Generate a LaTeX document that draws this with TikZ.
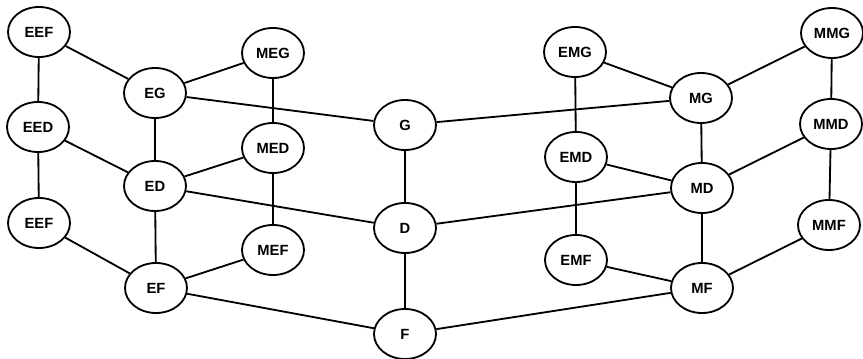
\documentclass[tikz,border=0pt]{standalone}
\usepackage{fontspec}
\setmainfont{Liberation Sans}
\usetikzlibrary{shapes.geometric}

\begin{document}
\begin{tikzpicture}[x=0.025cm, y=-0.025cm,
    state/.style={draw, ellipse, line width=1.3pt, minimum width=1.55cm, minimum height=1.25cm,
        inner sep=0pt, font=\fontsize{10.5}{12}\selectfont\bfseries},
    link/.style={line width=1.3pt}]
    \useasboundingbox (0,0) rectangle (863,359);

    % Left block
    \node[state] (EEF1) at (39, 32) {EEF};
    \node[state] (EED) at (38, 127) {EED};
    \node[state] (EEF2) at (39, 223) {EEF};
    \node[state] (EG) at (155, 93) {EG};
    \node[state] (ED) at (155, 186) {ED};
    \node[state] (EF) at (156, 288) {EF};
    \node[state] (MEG) at (273, 53) {MEG};
    \node[state] (MED) at (273, 148) {MED};
    \node[state] (MEF) at (273, 250) {MEF};

    % Middle column
    \node[state] (G) at (405, 125) {G};
    \node[state] (D) at (405, 228) {D};
    \node[state] (F) at (405, 334) {F};

    % Right block
    \node[state] (EMG) at (575, 52) {EMG};
    \node[state] (EMD) at (576, 157) {EMD};
    \node[state] (EMF) at (576, 260) {EMF};
    \node[state] (MG) at (701, 98) {MG};
    \node[state] (MD) at (702, 188) {MD};
    \node[state] (MF) at (702, 288) {MF};
    \node[state] (MMG) at (832, 33) {MMG};
    \node[state] (MMD) at (831, 124) {MMD};
    \node[state] (MMF) at (829, 225) {MMF};

    % Draw connections
    \draw[link] (EEF1) -- (EED);
    \draw[link] (EED) -- (EEF2);
    \draw[link] (EEF1) -- (EG);
    \draw[link] (EED) -- (ED);
    \draw[link] (EEF2) -- (EF);
    \draw[link] (EG) -- (ED);
    \draw[link] (ED) -- (EF);
    \draw[link] (EG) -- (MEG);
    \draw[link] (ED) -- (MED);
    \draw[link] (EF) -- (MEF);
    \draw[link] (MEG) -- (MED);
    \draw[link] (MED) -- (MEF);
    \draw[link] (EG) -- (G);
    \draw[link] (ED) -- (D);
    \draw[link] (EF) -- (F);
    \draw[link] (G) -- (D);
    \draw[link] (D) -- (F);
    \draw[link] (G) -- (MG);
    \draw[link] (D) -- (MD);
    \draw[link] (F) -- (MF);
    \draw[link] (EMG) -- (EMD);
    \draw[link] (EMD) -- (EMF);
    \draw[link] (EMG) -- (MG);
    \draw[link] (EMD) -- (MD);
    \draw[link] (EMF) -- (MF);
    \draw[link] (MG) -- (MD);
    \draw[link] (MD) -- (MF);
    \draw[link] (MG) -- (MMG);
    \draw[link] (MD) -- (MMD);
    \draw[link] (MF) -- (MMF);
    \draw[link] (MMG) -- (MMD);
    \draw[link] (MMD) -- (MMF);
\end{tikzpicture}
\end{document}
